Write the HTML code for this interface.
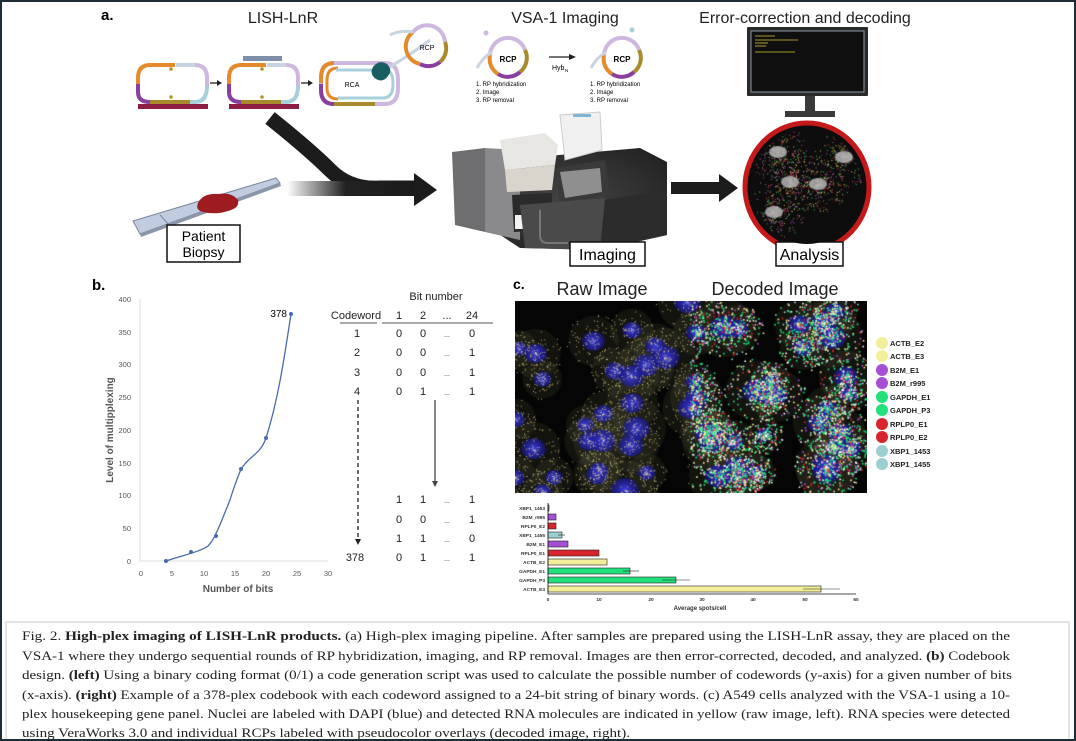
<!DOCTYPE html>
<html><head><meta charset="utf-8">
<style>
html,body{margin:0;padding:0;background:#fff;}
#wrap{position:relative;width:1076px;height:741px;overflow:hidden;background:#fff;}
svg{position:absolute;left:0;top:0;}
canvas{position:absolute;}
#frame{position:absolute;left:0;top:0;width:1072px;height:737px;border:2px solid #1e2d36;pointer-events:none;}
</style></head><body>
<div id="wrap">
<svg width="1076" height="741" viewBox="0 0 1076 741" font-family="Liberation Sans, sans-serif">
<defs>
<linearGradient id="fade" x1="0" x2="1" y1="0" y2="0">
<stop offset="0" stop-color="#fff"/><stop offset="0.45" stop-color="#222"/><stop offset="1" stop-color="#1a1a1a"/>
</linearGradient>
<radialGradient id="slab" cx="0.5" cy="0.5" r="0.7"><stop offset="0" stop-color="#444"/><stop offset="1" stop-color="#1f1f1f"/></radialGradient>
</defs>

<text x="101" y="20" font-size="15" font-weight="bold">a.</text>
<text x="283" y="23" font-size="16" text-anchor="middle" fill="#222">LISH-LnR</text>
<text x="565" y="23" font-size="16" text-anchor="middle" fill="#222">VSA-1 Imaging</text>
<text x="805" y="23" font-size="16" text-anchor="middle" fill="#222">Error-correction and decoding</text>

<g fill="none" stroke-width="4">
 <g id="loop1">
  <path d="M150 65 H175" stroke="#e58a2b"/>
  <path d="M150 65 Q138 65 138 78 V84" stroke="#e58a2b"/>
  <path d="M138 84 V92 Q138 102 150 102" stroke="#8a3fa0"/>
  <path d="M150 102 H190" stroke="#a98a2c"/>
  <path d="M176 65 H195" stroke="#c9d4e2"/>
  <path d="M195 65 Q207 65 207 78 V86" stroke="#cfb8e0"/>
  <path d="M207 86 Q207 102 195 102 H190" stroke="#a8d0dc"/>
 </g>
 <use href="#loop1" x="91"/>
 <g>
  <path d="M334 63 H385 Q398 63 398 80 V88 Q398 104 385 104 H334 Q321 104 321 90 V78 Q321 63 334 63Z" stroke="#cfb8e0"/>
  <path d="M334 63 Q321 63 321 78 V83" stroke="#e58a2b"/>
  <path d="M321 84 V90 Q321 104 334 104" stroke="#8a3fa0"/>
  <path d="M334 104 H375" stroke="#a98a2c"/>
  <path d="M338 68 Q327 68 327 80 V88 Q327 99 338 99" stroke="#e58a2b" stroke-width="3"/>
  <path d="M336 70 H385 Q393 70 393 84 Q393 98 383 98 H338" stroke="#a8d0dc" stroke-width="3"/>
  <path d="M385 70 Q410 55 430 40" stroke="#c9d4e2" stroke-width="3"/>
 </g>
</g>
<rect x="138" y="104" width="70" height="5" fill="#8e1d46"/>
<rect x="229" y="104" width="70" height="5" fill="#8e1d46"/>
<rect x="243" y="56" width="39" height="5" fill="#7f8ea8"/>
<circle cx="171" cy="69" r="1.8" fill="#b3942a"/><circle cx="171" cy="97" r="1.8" fill="#b3942a"/>
<circle cx="262" cy="69" r="1.8" fill="#b3942a"/><circle cx="262" cy="97" r="1.8" fill="#b3942a"/>
<path d="M210 83 H218" stroke="#222" stroke-width="1.3"/><path d="M217 80 L222 83 L217 86Z" fill="#222"/>
<path d="M301 83 H309" stroke="#222" stroke-width="1.3"/><path d="M308 80 L313 83 L308 86Z" fill="#222"/>
<text x="352" y="87" font-size="7" text-anchor="middle">RCA</text>
<path d="M373 67 q6 -8 14 -3 q6 6 1 12 q-5 7 -12 3 q-7 -5 -3 -12z" fill="#1a5e63"/>
<g fill="none" stroke-width="4">
 <path d="M413 32 A18 18 0 0 1 445 42" stroke="#cfb8e0"/>
 <path d="M445 42 A18 18 0 0 1 440 62" stroke="#a98a2c"/>
 <path d="M440 62 A18 18 0 0 1 420 64" stroke="#8a3fa0"/>
 <path d="M420 64 A18 18 0 0 1 413 32" stroke="#e58a2b"/>
 <path d="M413 32 Q400 30 390 35" stroke="#c9d4e2" stroke-width="3"/>
</g>
<text x="427" y="50" font-size="7" text-anchor="middle">RCP</text>
<g id="rcp2">
 <g fill="none" stroke-width="4">
  <path d="M490 55 A18 18 0 0 1 525 50" stroke="#cfb8e0"/>
  <path d="M525 50 A18 18 0 0 1 520 72" stroke="#a98a2c"/>
  <path d="M520 72 A18 18 0 0 1 498 74" stroke="#8a3fa0"/>
  <path d="M498 74 A18 18 0 0 1 490 55" stroke="#e58a2b"/>
  <path d="M492 52 Q482 58 477 68" stroke="#c9d4e2" stroke-width="3"/>
 </g>
 <text x="508" y="62" font-size="8" font-weight="bold" text-anchor="middle">RCP</text>
 <text x="476" y="86" font-size="6">1.  RP hybridization</text>
 <text x="476" y="94" font-size="6">2.  Image</text>
 <text x="476" y="102" font-size="6">3.  RP removal</text>
</g>
<circle cx="486" cy="33" r="2.5" fill="#cfb8e0"/>
<use href="#rcp2" x="114"/>
<circle cx="632" cy="30" r="2.5" fill="#a8d0dc"/>
<path d="M549 57 H570" stroke="#222" stroke-width="1.2"/><path d="M569 54 L576 57 L569 60Z" fill="#222"/>
<text x="552" y="70" font-size="7">Hyb</text><text x="565" y="72" font-size="4.5">N</text>

<path d="M270 118 Q310 150 330 170 Q350 190 380 188 L416 188" fill="none" stroke="#1c1c1c" stroke-width="15"/>
<rect x="287" y="181" width="130" height="15" fill="url(#fade)"/>
<path d="M414 173 L437 190 L414 206Z" fill="#1c1c1c"/>

<polygon points="133,221 276,178 280,183 140,234" fill="#c2cce0" stroke="#7c869c" stroke-width="1"/>
<polygon points="140,234 280,183 281,186 141,237" fill="#8c96ab"/>
<line x1="160" y1="215" x2="170" y2="226" stroke="#7c869c"/>
<path d="M198 203 q5 -10 20 -9 q14 -2 20 6 q2 8 -10 11 q-12 4 -25 1 q-8 -2 -5 -9z" fill="#9c1c22"/>
<rect x="167" y="225" width="73" height="37" fill="#fff" stroke="#111" stroke-width="1.5"/>
<text x="203.5" y="241" font-size="14" text-anchor="middle">Patient</text>
<text x="203.5" y="257" font-size="14" text-anchor="middle">Biopsy</text>

<polygon points="500,160 640,148 667,162 667,235 600,250 520,248 470,215 465,175" fill="url(#slab)"/>
<polygon points="452,152 485,148 485,232 455,225" fill="#6e6e70"/>
<polygon points="485,148 520,150 520,240 485,232" fill="#8a8a8c"/>
<polygon points="500,140 545,133 558,145 555,165 505,170" fill="#e8e6e2"/>
<polygon points="505,170 555,165 552,190 507,192" fill="#d9d5cd"/>
<polygon points="512,195 552,193 552,230 514,232" fill="#2a2a2a"/>
<rect x="515" y="215" width="34" height="14" fill="#f2f2f2"/>
<rect x="528" y="219" width="8" height="6" fill="#333"/>
<polygon points="560,115 600,112 602,150 565,160" fill="#f0f0f0" stroke="#ccc"/>
<rect x="573" y="114" width="18" height="3" fill="#7fb6d8"/>
<polygon points="555,168 605,160 610,195 560,205" fill="#3a3a3a"/>
<polygon points="560,172 600,168 602,192 565,198" fill="#8f8f8f"/>
<polygon points="520,205 605,198 600,250 525,248" fill="#4a4a4a"/>
<path d="M540 210 v25 q0 8 8 8 h20" fill="none" stroke="#777" stroke-width="2"/>
<polygon points="605,200 667,190 667,235 600,250" fill="#2c2c2c"/>
<rect x="570" y="242" width="75" height="24" fill="#fff" stroke="#111" stroke-width="1.5"/>
<text x="607.5" y="260" font-size="16" text-anchor="middle">Imaging</text>

<rect x="671" y="182" width="50" height="12" fill="#1c1c1c"/>
<path d="M719 174 L738 188 L719 202Z" fill="#1c1c1c"/>

<rect x="747" y="27" width="121" height="69" fill="#2a2a2a" rx="1"/>
<rect x="751" y="31" width="113" height="61" fill="#0f0f0f" stroke="#8f9aa8" stroke-width="1"/>
<line x1="755" y1="36" x2="775" y2="36" stroke="#d8c830" stroke-width="0.8"/>
<line x1="755" y1="40" x2="798" y2="40" stroke="#d8c830" stroke-width="0.8"/>
<line x1="755" y1="43" x2="768" y2="43" stroke="#d8c830" stroke-width="0.8"/>
<line x1="755" y1="46" x2="766" y2="46" stroke="#d8c830" stroke-width="0.8"/>
<line x1="755" y1="52" x2="795" y2="52" stroke="#d8c830" stroke-width="0.8"/>
<rect x="805" y="96" width="10" height="15" fill="#3a3a3a"/>
<rect x="785" y="111" width="50" height="6" fill="#3a3a3a"/>
<ellipse cx="807" cy="187" rx="62" ry="64" fill="#0d0d0d" stroke="#c41a1a" stroke-width="5"/>
<rect x="776" y="242" width="67" height="24" fill="#fff" stroke="#111" stroke-width="1.5"/>
<text x="809.5" y="260" font-size="16" text-anchor="middle">Analysis</text>

<text x="92" y="290" font-size="15" font-weight="bold">b.</text>
<g font-size="7.5" fill="#555" text-anchor="end">
<text x="131" y="302">400</text><text x="131" y="335">350</text><text x="131" y="367">300</text>
<text x="131" y="400">250</text><text x="131" y="433">200</text><text x="131" y="466">150</text>
<text x="131" y="498">100</text><text x="131" y="531">50</text><text x="131" y="564">0</text>
</g>
<line x1="140" y1="299" x2="140" y2="561" stroke="#ddd"/>
<line x1="140" y1="561" x2="328" y2="561" stroke="#ddd"/>
<g font-size="7.5" fill="#555" text-anchor="middle">
<text x="141" y="576">0</text><text x="172" y="576">5</text><text x="204" y="576">10</text>
<text x="235" y="576">15</text><text x="266" y="576">20</text><text x="297" y="576">25</text><text x="328" y="576">30</text>
</g>
<text x="238" y="592" font-size="10" font-weight="bold" fill="#555" text-anchor="middle">Number of bits</text>
<text transform="translate(113 430) rotate(-90)" font-size="10" font-weight="bold" fill="#555" text-anchor="middle">Level of multipplexing</text>
<path d="M166 561 C180 556 200 552 208 546 C214 540 218 530 230 500 C236 480 240 472 241 469 C250 455 260 455 266 438 C278 400 284 360 291 314" fill="none" stroke="#4a6aad" stroke-width="1.3"/>
<g fill="#4a6aad"><circle cx="166" cy="561" r="2"/><circle cx="191" cy="552" r="2"/><circle cx="216" cy="536" r="2"/><circle cx="241" cy="469" r="2"/><circle cx="266" cy="438" r="2"/><circle cx="291" cy="314" r="2"/></g>
<text x="287" y="317" font-size="10" text-anchor="end">378</text>

<g font-size="11" fill="#222" text-anchor="middle">
<text x="436" y="300">Bit number</text>
<text x="356" y="319">Codeword</text><text x="399" y="319">1</text><text x="423" y="319">2</text><text x="447" y="319">...</text><text x="472" y="319">24</text>
<line x1="340" y1="323" x2="377" y2="323" stroke="#555"/><line x1="382" y1="323" x2="493" y2="323" stroke="#555"/>
<text x="357" y="337">1</text><text x="399" y="337">0</text><text x="423" y="337">0</text><text x="447" y="337" font-size="7">...</text><text x="472" y="337">0</text>
<text x="357" y="356">2</text><text x="399" y="356">0</text><text x="423" y="356">0</text><text x="447" y="356" font-size="7">...</text><text x="472" y="356">1</text>
<text x="357" y="376">3</text><text x="399" y="376">0</text><text x="423" y="376">0</text><text x="447" y="376" font-size="7">...</text><text x="472" y="376">1</text>
<text x="357" y="395">4</text><text x="399" y="395">0</text><text x="423" y="395">1</text><text x="447" y="395" font-size="7">...</text><text x="472" y="395">1</text>
<text x="399" y="503">1</text><text x="423" y="503">1</text><text x="447" y="503" font-size="7">...</text><text x="472" y="503">1</text>
<text x="399" y="523">0</text><text x="423" y="523">0</text><text x="447" y="523" font-size="7">...</text><text x="472" y="523">1</text>
<text x="399" y="542">1</text><text x="423" y="542">1</text><text x="447" y="542" font-size="7">...</text><text x="472" y="542">0</text>
<text x="355" y="561">378</text><text x="399" y="561">0</text><text x="423" y="561">1</text><text x="447" y="561" font-size="7">...</text><text x="472" y="561">1</text>
</g>
<line x1="358" y1="400" x2="358" y2="540" stroke="#222" stroke-width="1.3" stroke-dasharray="4,3"/>
<path d="M355 539 L358 545 L361 539Z" fill="#222"/>
<line x1="435" y1="400" x2="435" y2="482" stroke="#444" stroke-width="1.3"/>
<path d="M432 481 L435 487 L438 481Z" fill="#444"/>

<text x="513" y="289" font-size="14" font-weight="bold">c.</text>
<text x="602" y="295" font-size="18" text-anchor="middle" fill="#222">Raw Image</text>
<text x="775" y="295" font-size="18" text-anchor="middle" fill="#222">Decoded Image</text>
<g font-size="7.5" font-weight="bold" fill="#222">
<circle cx="882" cy="343" r="6" fill="#f3ee9a"/><text x="890" y="346">ACTB_E2</text>
<circle cx="882" cy="356" r="6" fill="#f3ee9a"/><text x="890" y="359">ACTB_E3</text>
<circle cx="882" cy="370" r="6" fill="#a64ed6"/><text x="890" y="373">B2M_E1</text>
<circle cx="882" cy="383" r="6" fill="#a64ed6"/><text x="890" y="386">B2M_r995</text>
<circle cx="882" cy="397" r="6" fill="#22e07a"/><text x="890" y="400">GAPDH_E1</text>
<circle cx="882" cy="410" r="6" fill="#22e07a"/><text x="890" y="413">GAPDH_P3</text>
<circle cx="882" cy="424" r="6" fill="#d8242c"/><text x="890" y="427">RPLP0_E1</text>
<circle cx="882" cy="437" r="6" fill="#d8242c"/><text x="890" y="440">RPLP0_E2</text>
<circle cx="882" cy="451" r="6" fill="#9ccfd2"/><text x="890" y="454">XBP1_1453</text>
<circle cx="882" cy="464" r="6" fill="#9ccfd2"/><text x="890" y="467">XBP1_1455</text>
</g>

<g font-size="4.8" font-weight="bold" fill="#333" text-anchor="end">
<text x="545" y="510">XBP1_1453</text><text x="545" y="519">B2M_r995</text><text x="545" y="528">RPLP0_E2</text>
<text x="545" y="537">XBP1_1455</text><text x="545" y="546">B2M_E1</text><text x="545" y="555">RPLP0_E1</text>
<text x="545" y="564">ACTB_E2</text><text x="545" y="573">GAPDH_E1</text><text x="545" y="582">GAPDH_P3</text><text x="545" y="591">ACTB_E3</text>
</g>
<g stroke="#222" stroke-width="0.6">
<rect x="548" y="505" width="1" height="6" fill="#9ccfd2"/>
<rect x="548" y="514" width="8" height="6" fill="#a64ed6"/>
<rect x="548" y="523" width="8" height="6" fill="#d8242c"/>
<rect x="548" y="532" width="14" height="6" fill="#9ccfd2"/>
<rect x="548" y="541" width="20" height="6" fill="#a64ed6"/>
<rect x="548" y="550" width="51" height="6" fill="#d8242c"/>
<rect x="548" y="559" width="59" height="6" fill="#f3ee9a"/>
<rect x="548" y="568" width="82" height="6" fill="#22e07a"/>
<rect x="548" y="577" width="128" height="6" fill="#22e07a"/>
<rect x="548" y="586" width="273" height="6" fill="#f3ee9a"/>
<line x1="558" y1="535" x2="565" y2="535"/><line x1="623" y1="571" x2="639" y2="571"/>
<line x1="662" y1="580" x2="690" y2="580"/><line x1="803" y1="589" x2="840" y2="589"/>
</g>
<line x1="548" y1="503" x2="548" y2="594" stroke="#111" stroke-width="0.8"/>
<line x1="548" y1="594" x2="856" y2="594" stroke="#111" stroke-width="0.8"/>
<g font-size="4.8" font-weight="bold" fill="#333" text-anchor="middle">
<text x="548" y="601">0</text><text x="599" y="601">10</text><text x="651" y="601">20</text><text x="702" y="601">30</text><text x="753" y="601">40</text><text x="805" y="601">50</text><text x="856" y="601">60</text>
<text x="700" y="610" font-size="6">Average spots/cell</text>
</g>

<rect x="6" y="622" width="1063" height="125" fill="none" stroke="#c8c8c8"/>
<g font-family="Liberation Serif, serif" font-size="12.5" fill="#222">
<text x="22" y="640" textLength="988" lengthAdjust="spacingAndGlyphs">Fig. 2.  <tspan font-weight="bold">High-plex imaging of LISH-LnR products.</tspan> (a) High-plex imaging pipeline. After samples are prepared using the LISH-LnR assay, they are placed on the</text>
<text x="22" y="660" textLength="988" lengthAdjust="spacingAndGlyphs">VSA-1 where they undergo sequential rounds of RP hybridization, imaging, and RP removal. Images are then error-corrected, decoded, and analyzed. <tspan font-weight="bold">(b)</tspan> Codebook</text>
<text x="22" y="679" textLength="990" lengthAdjust="spacingAndGlyphs">design. <tspan font-weight="bold">(left)</tspan> Using a binary coding format (0/1) a code generation script was used to calculate the possible number of codewords (y-axis) for a given number of bits</text>
<text x="22" y="699" textLength="988" lengthAdjust="spacingAndGlyphs">(x-axis). <tspan font-weight="bold">(right)</tspan> Example of a 378-plex codebook with each codeword assigned to a 24-bit string of binary words. (c) A549 cells analyzed with the VSA-1 using a 10-</text>
<text x="22" y="718" textLength="988" lengthAdjust="spacingAndGlyphs">plex housekeeping gene panel. Nuclei are labeled with DAPI (blue) and detected RNA molecules are indicated in yellow (raw image, left). RNA species were detected</text>
<text x="22" y="737" textLength="608" lengthAdjust="spacingAndGlyphs">using VeraWorks 3.0 and individual RCPs labeled with pseudocolor overlays (decoded image, right).</text>
</g>
</svg>
<canvas id="mic" width="352" height="192" style="left:515px;top:301px;"></canvas>
<canvas id="circ" width="112" height="114" style="left:751px;top:130px;clip-path:ellipse(56px 57px at 56px 57px);"></canvas>
<div id="frame"></div>
</div>
<script>
var s=7;function r(){s=(s*16807)%2147483647;return (s-1)/2147483646;}
var c=document.getElementById('mic').getContext('2d');
c.fillStyle='#050505';c.fillRect(0,0,352,192);
var nuc=[];for(var i=0;i<60;i++){nuc.push([r()*352,r()*192,8+r()*6]);}
for(var i=0;i<nuc.length;i++){var n=nuc[i];c.fillStyle='rgba(90,90,60,0.18)';c.beginPath();c.arc(n[0],n[1],n[2]*2.2,0,7);c.fill();}
for(var i=0;i<nuc.length;i++){var n=nuc[i];var g=c.createRadialGradient(n[0],n[1],1,n[0],n[1],n[2]);g.addColorStop(0,'#3a3ad8');g.addColorStop(1,'rgba(20,20,140,0.6)');c.fillStyle=g;c.beginPath();c.ellipse(n[0],n[1],n[2],n[2]*0.85,0,0,7);c.fill();}
var cols=['#f3ee9a','#22e07a','#22e07a','#d8242c','#a64ed6','#9ccfd2','#f3ee9a','#ffffff','#22e07a'];
for(var i=0;i<9000;i++){var n=nuc[Math.floor(r()*nuc.length)];var a=r()*6.28,d=r()*n[2]*2.4;var x=n[0]+Math.cos(a)*d,y=n[1]+Math.sin(a)*d;
 if(x<175){if(r()<0.5)continue;c.fillStyle='rgba(230,220,140,0.8)';c.fillRect(x,y,1,1);}else{c.fillStyle=cols[Math.floor(r()*cols.length)];c.fillRect(x,y,1.6,1.6);}}
var k=document.getElementById('circ').getContext('2d');
k.fillStyle='#0d0d0d';k.fillRect(0,0,112,114);
var bl=[[27,22],[93,27],[39,52],[67,54],[23,82]];
for(var i=0;i<1200;i++){var b=bl[Math.floor(r()*5)];var a=r()*6.28,d=r()*30;k.fillStyle=['#d8c850','#d84050','#40c060','#c060c0'][Math.floor(r()*4)];k.fillRect(b[0]+Math.cos(a)*d,b[1]+Math.sin(a)*d,1,1);}
for(var i=0;i<5;i++){k.fillStyle='rgba(190,190,190,0.8)';k.beginPath();k.ellipse(bl[i][0],bl[i][1],9,6,0,0,7);k.fill();}
</script>
</body></html>
